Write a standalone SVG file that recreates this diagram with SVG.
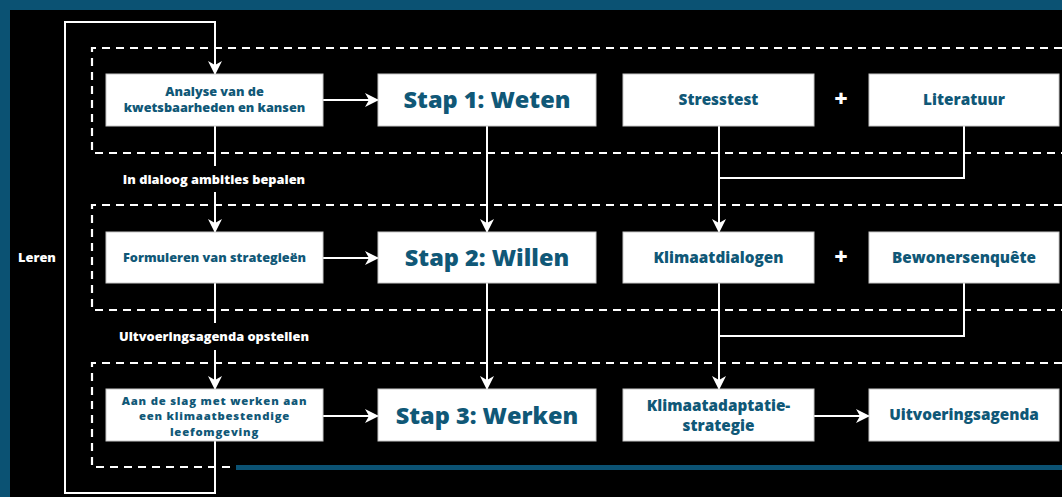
<svg xmlns="http://www.w3.org/2000/svg" width="1062" height="497" viewBox="0 0 1062 497">
<style>
.box{fill:#ffffff;stroke:#c8c8c8;stroke-width:1}
.t{font-family:"Open Sans","Liberation Sans",sans-serif;font-weight:800;fill:#105877;text-anchor:middle}
.big{font-size:23.5px}
.mid{font-size:15.3px}
.sm{font-size:12.7px}
.xs{font-size:11.3px;letter-spacing:0.8px}
.lbl{font-family:"Open Sans","Liberation Sans",sans-serif;font-weight:800;fill:#ffffff;font-size:12.8px;text-anchor:middle}
.dash{fill:none;stroke:#ffffff;stroke-width:2.2;stroke-dasharray:8 6}
.c{fill:none;stroke:#ffffff;stroke-width:2}
.a{marker-end:url(#ah)}
</style>
<defs>
<marker id="ah" markerUnits="userSpaceOnUse" markerWidth="14" markerHeight="14" viewBox="0 0 14 14" refX="13" refY="7" orient="auto">
<path d="M0,0 L14,7 L0,14 L4,7 Z" fill="#ffffff"/>
</marker>
</defs>
<rect x="0" y="0" width="1062" height="497" fill="#0b5273"/>
<rect x="10" y="10" width="1052" height="487" fill="#000000"/>

<g id="groups">
<path class="dash" d="M1062,48 H92 V153 H1062"/>
<path class="dash" d="M1062,205 H92 V310 H1062"/>
<path class="dash" d="M1062,363 H92 V467 H1062"/>
</g>
<rect x="236" y="465" width="826" height="5" fill="#0b5273"/>

<g id="connectors">
<path class="c a" d="M215,441 V493 H65 V22 H215 V74"/>
<path class="c a" d="M323,100 H378"/>
<path class="c" d="M215,126 V166"/>
<path class="c a" d="M215,192 V232"/>
<path class="c a" d="M487,126 V232"/>
<path class="c a" d="M719,126 V232"/>
<path class="c" d="M964,126 V178 H719"/>
<path class="c a" d="M323,258 H378"/>
<path class="c" d="M215,283 V323"/>
<path class="c a" d="M215,350 V389"/>
<path class="c a" d="M487,283 V389"/>
<path class="c a" d="M719,283 V389"/>
<path class="c" d="M964,283 V336 H719"/>
<path class="c a" d="M323,416 H378"/>
<path class="c a" d="M814,416 H869"/>
</g>

<g id="node-analyse"><rect class="box" x="106" y="74" width="217" height="52"/><text class="t sm" x="214.5" y="96">Analyse van de</text><text class="t sm" x="214.5" y="112">kwetsbaarheden en kansen</text></g>
<g id="node-stap1"><rect class="box" x="378" y="74" width="218" height="52"/><text class="t big" x="487" y="108">Stap 1: Weten</text></g>
<g id="node-stresstest"><rect class="box" x="623" y="74" width="191" height="52"/><text class="t mid" x="718.5" y="105">Stresstest</text></g>
<g id="node-literatuur"><rect class="box" x="869" y="74" width="190" height="52"/><text class="t mid" x="964" y="105">Literatuur</text></g>
<g id="plus1"><text class="lbl" x="841" y="107" style="font-size:23px">+</text></g>

<g id="node-formuleren"><rect class="box" x="106" y="232" width="217" height="51"/><text class="t sm" x="214.5" y="262">Formuleren van strategieën</text></g>
<g id="node-stap2"><rect class="box" x="378" y="232" width="218" height="51"/><text class="t big" x="487" y="266">Stap 2: Willen</text></g>
<g id="node-klimaatdialogen"><rect class="box" x="623" y="232" width="191" height="51"/><text class="t mid" x="718.5" y="263">Klimaatdialogen</text></g>
<g id="node-bewoners"><rect class="box" x="869" y="232" width="190" height="51"/><text class="t mid" x="964" y="263">Bewonersenquête</text></g>
<g id="plus2"><text class="lbl" x="841" y="265" style="font-size:23px">+</text></g>

<g id="node-aandeslag"><rect class="box" x="106" y="389" width="217" height="52"/><text class="t xs" x="214.5" y="404.5">Aan de slag met werken aan</text><text class="t xs" x="214.5" y="420">een klimaatbestendige</text><text class="t xs" x="214.5" y="435.5">leefomgeving</text></g>
<g id="node-stap3"><rect class="box" x="378" y="389" width="218" height="52"/><text class="t big" x="487" y="424">Stap 3: Werken</text></g>
<g id="node-klimaatadaptatie"><rect class="box" x="623" y="389" width="191" height="52"/><text class="t mid" x="718.5" y="411">Klimaatadaptatie-</text><text class="t mid" x="718.5" y="431">strategie</text></g>
<g id="node-uitvoeringsagenda"><rect class="box" x="869" y="389" width="190" height="52"/><text class="t mid" x="964" y="420">Uitvoeringsagenda</text></g>

<g id="labels">
<text class="lbl" x="214" y="184">In dialoog ambities bepalen</text>
<text class="lbl" x="214" y="341">Ultvoeringsagenda opstellen</text>
<text class="lbl" x="37" y="262">Leren</text>
</g>
</svg>
